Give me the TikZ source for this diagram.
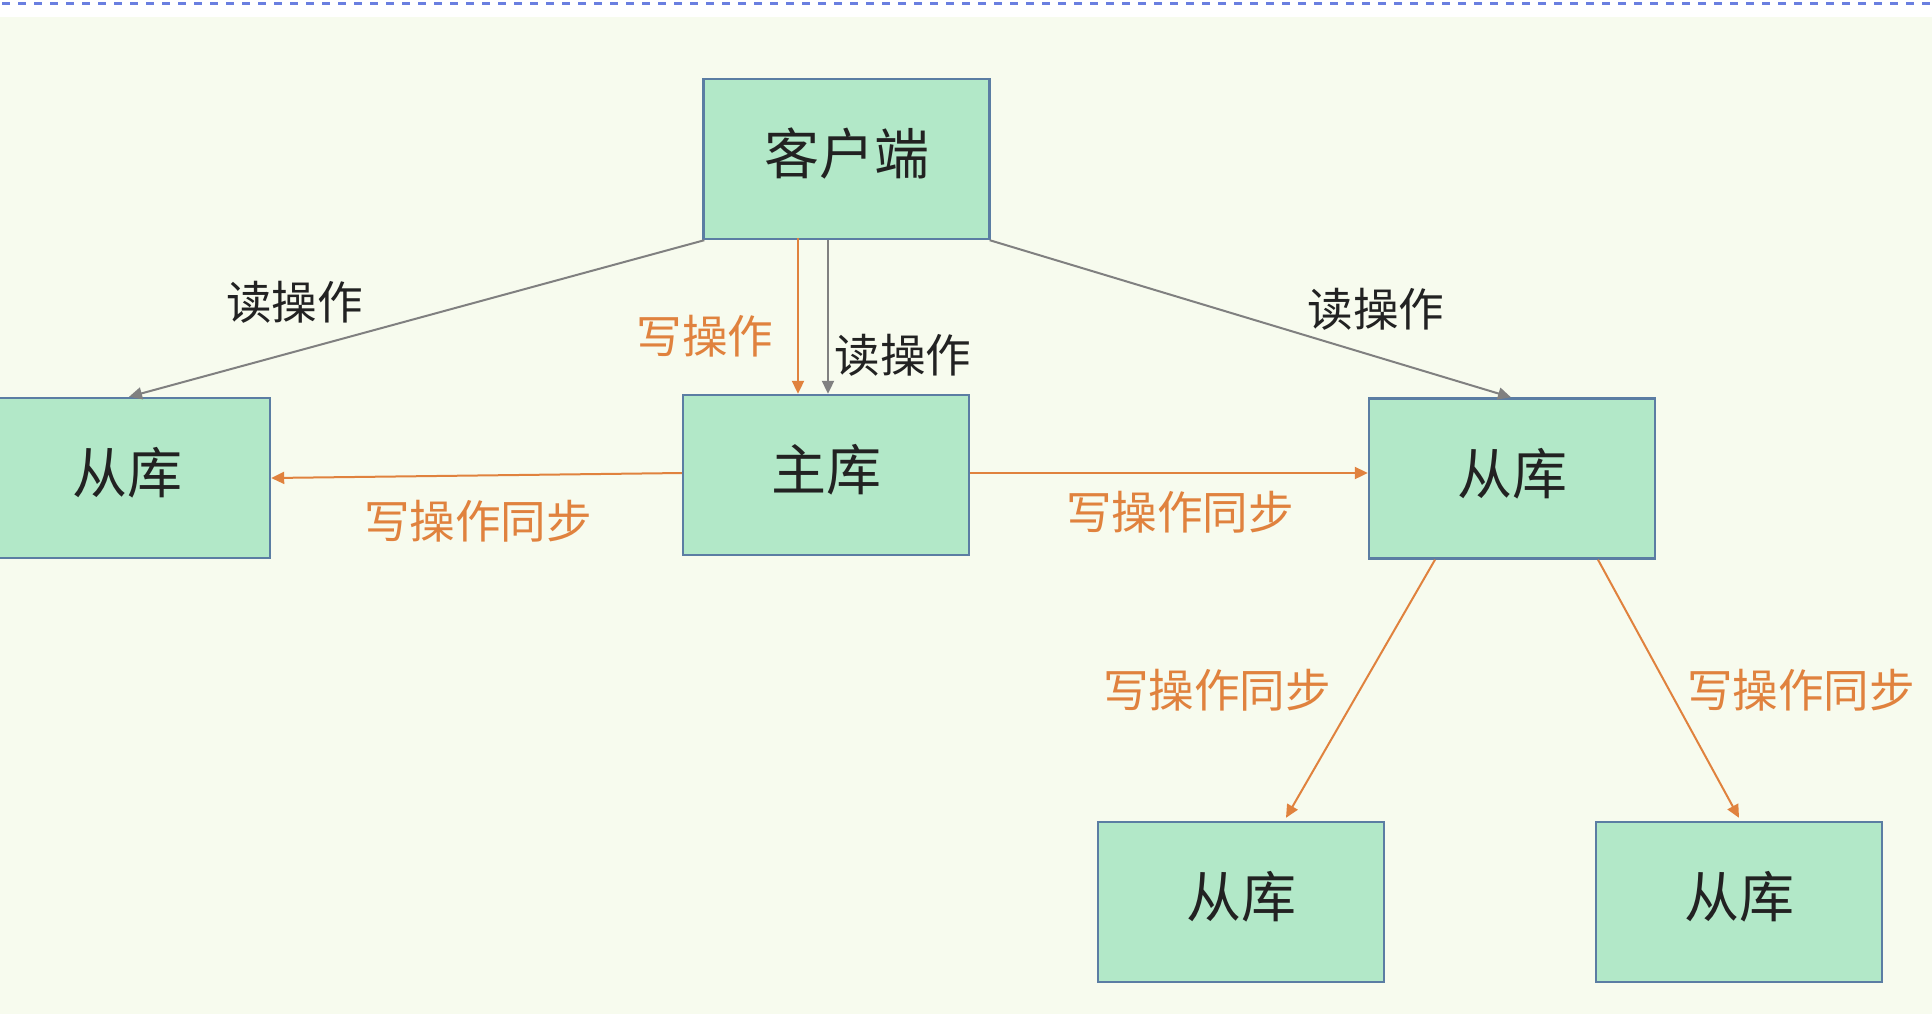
\documentclass[tikz,border=0pt]{standalone}
\usepackage{fontspec}
\setmainfont{Noto Sans CJK SC}
\usetikzlibrary{arrows.meta,calc}
\definecolor{bgc}{HTML}{F7FBEE}
\definecolor{boxfill}{HTML}{B2E8C8}
\definecolor{boxline}{HTML}{5B7DA3}
\definecolor{orng}{HTML}{E0823E}
\definecolor{gry}{HTML}{808080}
\definecolor{dashblue}{HTML}{6A7FE0}
\definecolor{txt}{HTML}{222222}
\newcommand{\boxtxt}[1]{\raisebox{2.5pt}[\height][\depth]{#1}}
\tikzset{
  dbbox/.style={draw=boxline, line width=1.2pt, fill=boxfill, minimum width=143pt, minimum height=80pt, inner sep=0pt, text=txt, font=\fontsize{27.5}{30}\selectfont},
  lbl/.style={inner sep=0pt, font=\fontsize{22.8}{26}\selectfont},
  rdlbl/.style={lbl, text=txt},
  wrlbl/.style={lbl, text=orng},
  rdarrow/.style={draw=gry, line width=1pt, -{Triangle[length=6.5pt,width=6pt]}},
  wrarrow/.style={draw=orng, line width=1pt, -{Triangle[length=6.5pt,width=6pt]}},
}
\begin{document}
\begin{tikzpicture}[x=0.5pt,y=-0.5pt]
\useasboundingbox (0,0) rectangle (1932,1014);
\fill[white] (0,0) rectangle (1932,17);
\fill[bgc] (0,17) rectangle (1932,1014);
\draw[dashblue, line width=1.5pt, dash pattern=on 4.2pt off 3.8pt] (2,3) -- (1932,3);

\node[dbbox] (client) at (846.5,159) {\boxtxt{客户端}};
\node[dbbox] (ls) at (127,478) {\boxtxt{从库}};
\node[dbbox] (master) at (826,475) {\boxtxt{主库}};
\node[dbbox] (rs) at (1512,478.5) {\boxtxt{从库}};
\node[dbbox] (bl) at (1241,902) {\boxtxt{从库}};
\node[dbbox] (br) at (1739,902) {\boxtxt{从库}};

\coordinate (ctop) at (master.north |- client.south);
\coordinate (rstart) at (master.east -| rs.west);

\draw[rdarrow] ($(client.south west)+(2,0)$) -- ($(ls.north)+(2,0)$);
\draw[rdarrow] ($(client.south east)+(-1,0)$) -- ($(rs.north)+(-1,0)$);
\draw[wrarrow] ($(ctop)+(-28,-2.4)$) -- ($(master.north)+(-28,0)$);
\draw[rdarrow] ($(ctop)+(2,0)$) -- ($(master.north)+(2,0)$);
\draw[wrarrow] ($(master.west)+(0,-2)$) -- (ls.east);
\draw[wrarrow] ($(master.east)+(0,-2)$) -- ($(rstart)+(0,-2)$);
\draw[wrarrow] ($(rs.south)+(-77,0)$) -- ($(bl.north)+(45,-3)$);
\draw[wrarrow] ($(rs.south)+(86,0)$) -- ($(br.north)+(0,-3)$);

\node[rdlbl] (r1) at (294.5,302) {读操作};
\node[wrlbl] (w0) at (704.8,336.4) {写操作};
\node[rdlbl] (r2) at (903,355) {读操作};
\node[rdlbl] (r3) at (1376,309) {读操作};
\node[wrlbl] (w1) at (478,521) {写操作同步};
\node[wrlbl] (w2) at (1180,512.5) {写操作同步};
\node[wrlbl] (w3) at (1217,690) {写操作同步};
\node[wrlbl] (w4) at (1801,690) {写操作同步};
\end{tikzpicture}
\end{document}
